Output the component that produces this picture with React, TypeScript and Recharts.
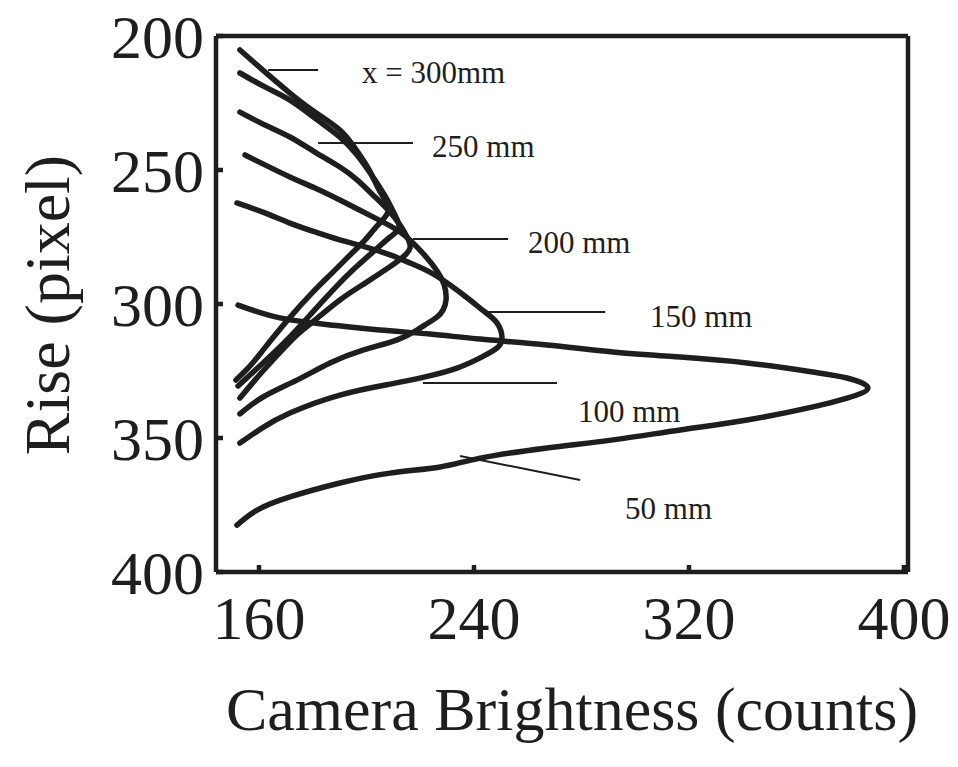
import { LineChart, Line, XAxis, YAxis, ReferenceLine, ReferenceDot } from 'recharts';

const FONT = '"Liberation Serif", "Times New Roman", Times, serif';
const INK = '#1e1e1e';

// Each profile runs from its upper end, round the tip, back to its lower end.
const bright300 = [152.9, 162.2, 171.5, 180.8, 190.1, 195.7, 200.6, 204.3, 206.9, 208.0, 204.3, 199.5, 195.0, 187.5, 180.1, 170.4, 161.5, 156.7, 151.4];
const rise300 = [205.2, 213.4, 221.3, 228.4, 235.1, 241.8, 249.3, 256.7, 261.2, 265.7, 270.5, 276.1, 280.6, 288.1, 295.5, 306.3, 317.2, 323.1, 328.4];

const bright250 = [152.9, 162.2, 171.5, 180.8, 190.1, 196.5, 202.4, 207.3, 210.6, 212.1, 208.8, 203.2, 195.7, 187.5, 179.0, 170.4, 161.5, 152.2];
const rise250 = [213.8, 219.0, 223.9, 230.6, 237.7, 244.4, 252.6, 260.4, 266.8, 271.6, 275.0, 279.9, 286.6, 294.8, 304.1, 313.4, 322.0, 330.6];

const bright200 = [152.9, 162.2, 171.5, 180.8, 190.1, 196.5, 202.4, 208.0, 212.5, 215.1, 216.2, 213.2, 208.0, 199.5, 190.1, 180.8, 174.1, 165.2, 158.5, 152.9];
const rise200 = [228.4, 233.2, 237.7, 243.3, 248.9, 253.7, 259.3, 264.9, 270.5, 275.0, 279.1, 282.8, 286.6, 292.2, 298.5, 306.0, 311.6, 320.9, 328.4, 335.1];

const bright150 = [154.8, 162.2, 171.5, 180.8, 190.1, 202.4, 212.5, 219.9, 225.5, 228.9, 229.6, 228.5, 226.2, 221.8, 218.8, 211.4, 198.7, 186.4, 174.1, 161.5, 152.9];
const rise150 = [244.4, 248.1, 252.6, 256.7, 261.2, 267.5, 273.1, 279.9, 286.6, 292.9, 298.5, 302.2, 304.9, 307.8, 309.7, 313.4, 317.2, 322.0, 328.4, 334.7, 341.0];

const bright100 = [151.8, 162.2, 171.5, 180.8, 190.1, 199.5, 208.8, 216.2, 223.6, 231.1, 238.5, 244.1, 248.6, 250.4, 248.6, 242.3, 233.7, 221.8, 208.8, 190.1, 171.5, 161.1, 152.9];
const rise100 = [262.3, 266.0, 269.8, 273.1, 276.1, 278.7, 281.7, 284.7, 288.1, 292.9, 298.5, 303.0, 307.1, 312.3, 316.4, 320.1, 323.9, 327.2, 329.9, 334.0, 340.7, 346.3, 351.9];

const bright50 = [152.2, 167.8, 186.4, 205.0, 223.6, 242.3, 267.2, 291.7, 316.7, 341.6, 366.2, 378.8, 386.6, 378.8, 366.2, 341.6, 316.7, 291.7, 267.2, 242.3, 227.4, 208.8, 190.1, 171.5, 159.3, 151.8];
const rise50 = [300.4, 305.2, 307.8, 309.7, 311.2, 313.1, 315.3, 317.9, 319.8, 322.0, 325.4, 327.6, 331.3, 335.1, 338.4, 343.3, 347.0, 350.7, 353.7, 357.5, 360.8, 363.1, 366.8, 372.0, 376.9, 382.5];

const xTicks = [160, 240, 320, 400];
const yTicks = [200, 250, 300, 350, 400];

// label text, where it starts (left edge, baseline) and its leader line
const noteText = ['x = 300mm', '250 mm', '200 mm', '150 mm', '100 mm', '50 mm'];
const noteAt = [[198.3, 217.5], [224.4, 245.1], [260.1, 281.0], [305.5, 308.6], [278.7, 344.0], [296.2, 380.2]];
const leaders = [
  [[163.4, 212.7], [182.0, 212.7]],
  [[182.0, 239.9], [217.3, 239.9]],
  [[217.3, 275.7], [252.7, 275.7]],
  [[244.9, 303.0], [288.8, 303.0]],
  [[221.0, 329.5], [270.9, 329.5]],
  [[234.8, 356.7], [279.5, 365.7]],
];

const toPoints = (bx: number[], ry: number[]) => bx.map((x, i) => ({ x, y: ry[i] }));

const profiles = [
  { name: '300', data: toPoints(bright300, rise300) },
  { name: '250', data: toPoints(bright250, rise250) },
  { name: '200', data: toPoints(bright200, rise200) },
  { name: '150', data: toPoints(bright150, rise150) },
  { name: '100', data: toPoints(bright100, rise100) },
  { name: '50', data: toPoints(bright50, rise50) },
];

const axisStroke = { stroke: INK, strokeWidth: 4.5 };
const tickFont = { fontSize: 62, fontFamily: FONT, fill: INK };

export default function App() {
  return (
    // pull the chart up over the body margin so the top tick label has room
    <div style={{ marginTop: -8, width: 942, height: 759 }}>
      <LineChart width={942} height={759} margin={{ top: 35, right: 41, bottom: 0, left: 0 }}>
        <XAxis
          type="number"
          dataKey="x"
          domain={[144, 401.5]}
          ticks={xTicks}
          interval={0}
          allowDataOverflow
          height={187}
          axisLine={axisStroke}
          tickLine={axisStroke}
          tickSize={-7}
          tickMargin={30}
          tick={tickFont}
        />
        <XAxis
          xAxisId="top"
          orientation="top"
          type="number"
          domain={[144, 401.5]}
          ticks={xTicks}
          interval={0}
          allowDataOverflow
          height={1}
          axisLine={axisStroke}
          tickLine={axisStroke}
          tickSize={-7}
          tick={false}
        />
        <YAxis
          type="number"
          domain={[200, 400]}
          ticks={yTicks}
          interval={0}
          reversed
          allowDataOverflow
          width={208}
          axisLine={axisStroke}
          tickLine={axisStroke}
          tickSize={-7}
          tickMargin={19}
          tick={tickFont}
        />
        <YAxis
          yAxisId="right"
          orientation="right"
          type="number"
          domain={[200, 400]}
          ticks={yTicks}
          interval={0}
          reversed
          width={1}
          axisLine={axisStroke}
          tickLine={axisStroke}
          tickSize={-7}
          tick={false}
        />

        {profiles.map((p) => (
          <Line
            key={p.name}
            data={p.data}
            dataKey="y"
            type="natural"
            stroke={INK}
            strokeWidth={5.5}
            strokeLinejoin="round"
            strokeLinecap="round"
            dot={false}
            activeDot={false}
            isAnimationActive={false}
          />
        ))}

        {leaders.map((seg, i) => (
          <ReferenceLine
            key={`lead-${i}`}
            segment={[{ x: seg[0][0], y: seg[0][1] }, { x: seg[1][0], y: seg[1][1] }]}
            stroke={INK}
            strokeWidth={2}
            ifOverflow="visible"
          />
        ))}

        {noteText.map((t, i) => (
          <ReferenceDot
            key={`note-${i}`}
            x={noteAt[i][0]}
            y={noteAt[i][1]}
            r={0}
            fill="none"
            stroke="none"
            ifOverflow="visible"
            label={{
              content: (props: any) => {
                const vb = props.viewBox || {};
                return (
                  <text x={vb.x} y={vb.y} fontSize={31} fontFamily={FONT} fill={INK}>
                    {t}
                  </text>
                );
              },
            }}
          />
        ))}

        <text
          x={39}
          y={305}
          transform="rotate(-90 39 305)"
          textAnchor="middle"
          dominantBaseline="central"
          fontSize={64}
          fontFamily={FONT}
          fill={INK}
        >
          Rise (pixel)
        </text>
        <text x={564} y={730} textAnchor="middle" fontSize={62} fontFamily={FONT} fill={INK}>
          Camera Brightness (counts)
        </text>
      </LineChart>
    </div>
  );
}
